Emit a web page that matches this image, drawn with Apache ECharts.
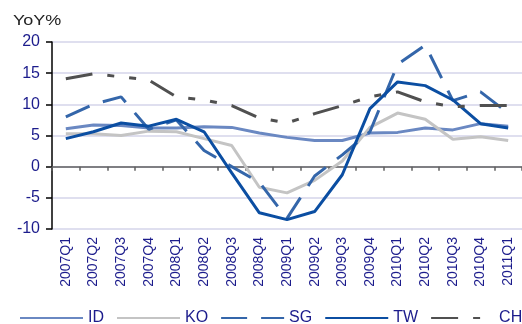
<!DOCTYPE html>
<html>
<head>
<meta charset="utf-8">
<script src="https://cdn.jsdelivr.net/npm/echarts@6/dist/echarts.min.js"></script>
<style>
  html, body { margin: 0; padding: 0; background: #fff; }
  #chart { width: 522px; height: 324px; }
</style>
</head>
<body>
<div id="chart"></div>
<script>
// Quarterly YoY growth, %
var quarters = ['2007Q1','2007Q2','2007Q3','2007Q4','2008Q1','2008Q2','2008Q3','2008Q4',
                '2009Q1','2009Q2','2009Q3','2009Q4','2010Q1','2010Q2','2010Q3','2010Q4','2011Q1'];
var idValues = [6.1, 6.7, 6.6, 6.2, 6.2, 6.4, 6.3, 5.4, 4.7, 4.2, 4.2, 5.4, 5.5, 6.2, 5.9, 6.9, 6.5];
var koValues = [5.3, 5.3, 5.0, 5.7, 5.6, 4.5, 3.4, -3.3, -4.2, -2.2, 0.9, 6.3, 8.6, 7.6, 4.4, 4.8, 4.2];
var sgValues = [8.0, 10.0, 11.2, 6.0, 7.5, 2.6, 0.0, -2.5, -8.3, -1.5, 1.9, 5.6, 16.4, 19.5, 10.6, 12.0, 8.6];
var twValues = [4.5, 5.6, 7.0, 6.5, 7.6, 5.6, -1.0, -7.4, -8.5, -7.2, -1.3, 9.3, 13.6, 13.0, 10.7, 6.9, 6.2];
var chValues = [14.1, 14.9, 14.4, 13.9, 11.2, 10.7, 9.8, 7.8, 7.0, 8.5, 9.8, 11.2, 12.0, 10.4, 9.6, 9.8, 9.8];

var FONT = '"Liberation Sans", Arial, sans-serif';
var NAVY = '#1c1c8c';

function lineSeries(name, data, color, dash) {
  return {
    name: name,
    type: 'line',
    data: data,
    symbol: 'none',
    xAxisIndex: 0,
    lineStyle: { color: color, width: 3, type: dash || 'solid', cap: 'butt' },
    itemStyle: { color: color },
    emphasis: { disabled: true },
    animation: false
  };
}

var chart = echarts.init(document.getElementById('chart'), null, { renderer: 'canvas' });
chart.setOption({
  animation: false,
  backgroundColor: '#ffffff',
  graphic: [{
    type: 'text',
    left: 13,
    top: 13,
    scaleX: 1.2,
    style: { text: 'YoY%', fontFamily: FONT, fontSize: 15, fill: '#222' }
  }],
  grid: { left: 52, top: 42, width: 473, height: 187, containLabel: false },
  legend: {
    data: ['ID', 'KO', 'SG', 'TW', 'CH'],
    left: 14,
    top: 305,
    width: 700,
    itemWidth: 63,
    itemHeight: 12,
    itemGap: 12,
    itemStyle: { opacity: 0 },
    textStyle: { fontFamily: FONT, fontSize: 16, color: NAVY }
  },
  xAxis: [
    {
      type: 'category',
      data: quarters,
      position: 'bottom',
      boundaryGap: true,
      axisLine: { show: false, onZero: false },
      axisTick: { show: false },
      axisLabel: { rotate: 90, margin: 8, fontFamily: FONT, fontSize: 14, color: NAVY, interval: 0 }
    },
    {
      type: 'category',
      data: quarters,
      position: 'bottom',
      boundaryGap: true,
      axisLine: { show: true, onZero: true, lineStyle: { color: '#606060', width: 1.5 } },
      axisTick: { show: true, length: 4, interval: 0, lineStyle: { color: '#606060', width: 1.5 } },
      axisLabel: { show: false }
    }
  ],
  yAxis: {
    type: 'value',
    min: -10,
    max: 20,
    interval: 5,
    axisLine: { show: true, lineStyle: { color: '#000', width: 1.5 } },
    axisTick: { show: true, length: 6, lineStyle: { color: '#000', width: 1.5 } },
    axisLabel: { margin: 12, fontFamily: FONT, fontSize: 16, color: NAVY },
    splitLine: { show: true, lineStyle: { color: '#d4d4ea', width: 1.5 } }
  },
  series: [
    lineSeries('ID', idValues, '#6a88c2'),
    lineSeries('KO', koValues, '#c4c4c4'),
    lineSeries('SG', sgValues, '#3466aa', [26, 14]),
    lineSeries('TW', twValues, '#0b4ea2'),
    lineSeries('CH', chValues, '#505050', [27, 15, 7, 15, 7, 15])
  ]
});
</script>
</body>
</html>
